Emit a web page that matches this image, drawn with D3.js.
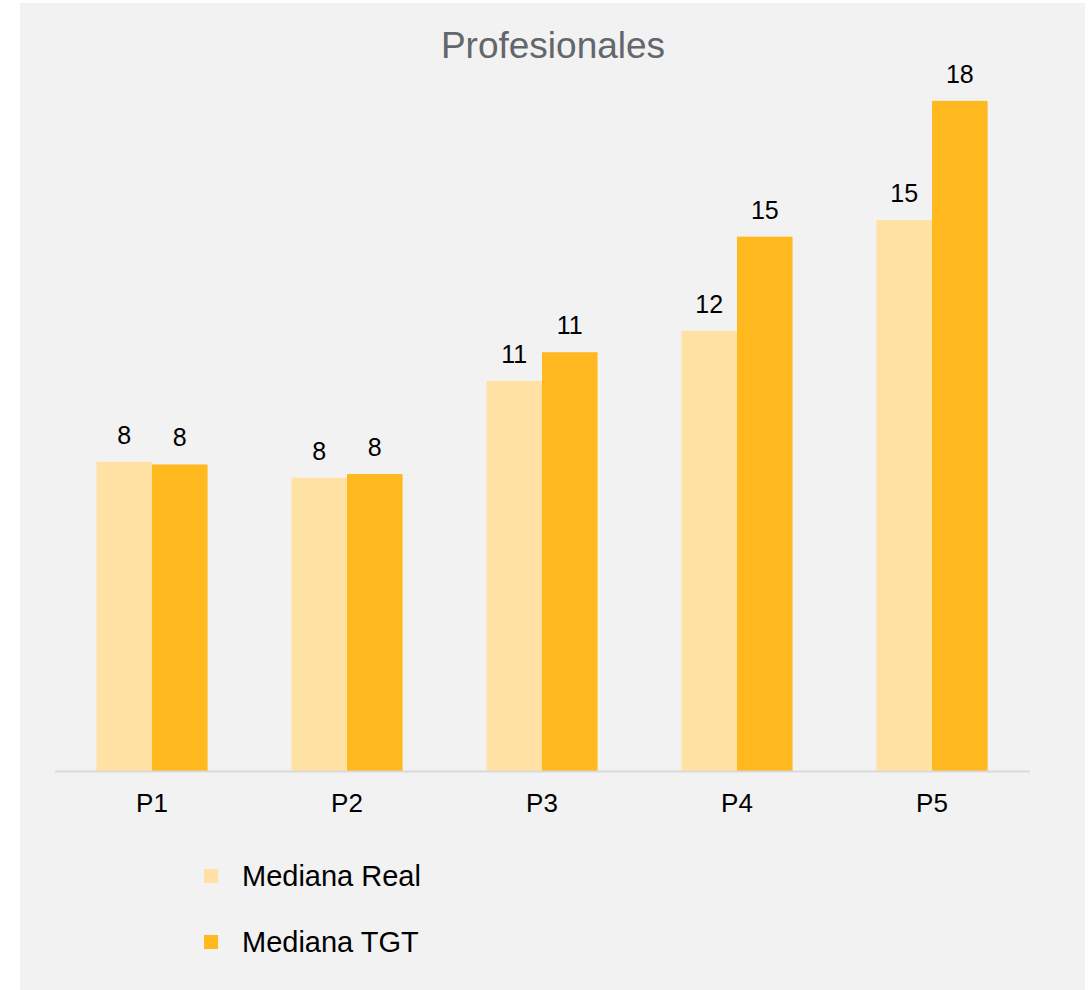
<!DOCTYPE html>
<html>
<head>
<meta charset="utf-8">
<script src="https://cdn.jsdelivr.net/npm/d3@7"></script>
<style>
  body { margin: 0; background: #fff; }
  svg { display: block; font-family: "Liberation Sans", Arial, sans-serif; }
</style>
</head>
<body>
<svg id="chart"></svg>
<script>
// Data
const categories = ['P1', 'P2', 'P3', 'P4', 'P5'];
const seriesNames = ['Mediana Real', 'Mediana TGT'];
const medianaReal = [8.40, 7.97, 10.60, 11.96, 14.97];
const medianaTGT = [8.33, 8.07, 11.38, 14.52, 18.21];
const seriesColors = ['#FFE2A3', '#FFB81E'];

const width = 1089;
const height = 990;

let svg = d3.select('#chart')
    .attr('width', width)
    .attr('height', height);

// Panel background
svg.append('rect')
    .attr('x', 20).attr('y', 3)
    .attr('width', 1065).attr('height', 990)
    .attr('fill', '#f2f2f2');

// Title
svg.append('text')
    .attr('x', 553).attr('y', 58)
    .attr('text-anchor', 'middle')
    .attr('font-size', 37)
    .attr('fill', '#63666a')
    .text('Profesionales');

// Scales
let x0 = d3.scaleBand()
    .domain(categories)
    .range([54.5, 1029.5])
    .paddingInner(0.43)
    .paddingOuter(0.215);

let x1 = d3.scaleBand()
    .domain(seriesNames)
    .range([0, x0.bandwidth()]);

let y = d3.scaleLinear()
    .domain([0, 20])
    .range([771, 35]);

let rows = categories.map((c, i) => ({
    cat: c,
    values: [medianaReal[i], medianaTGT[i]]
}));

// Bars
let groups = svg.append('g')
  .selectAll('g')
  .data(rows)
  .join('g')
    .attr('transform', d => 'translate(' + x0(d.cat) + ',0)');

groups.selectAll('rect')
  .data(d => d.values.map((v, j) => ({ name: seriesNames[j], value: v, j: j })))
  .join('rect')
    .attr('x', d => x1(d.name))
    .attr('y', d => y(d.value))
    .attr('width', x1.bandwidth())
    .attr('height', d => y(0) - y(d.value))
    .attr('fill', d => seriesColors[d.j]);

// Value labels
groups.selectAll('text')
  .data(d => d.values.map((v, j) => ({ name: seriesNames[j], value: v })))
  .join('text')
    .attr('x', d => x1(d.name) + x1.bandwidth() / 2)
    .attr('y', d => y(d.value) - 18)
    .attr('text-anchor', 'middle')
    .attr('font-size', 25)
    .attr('fill', '#000')
    .text(d => d3.format('.0f')(d.value));

// X axis
let xAxis = svg.append('g')
    .attr('transform', 'translate(0,' + y(0) + ')')
    .call(d3.axisBottom(x0).tickSize(0).tickPadding(0));

xAxis.select('.domain')
    .attr('stroke', '#d9d9d9')
    .attr('stroke-width', 2);

xAxis.selectAll('text')
    .attr('dy', null)
    .attr('y', 41)
    .attr('font-size', 26)
    .attr('font-family', '"Liberation Sans", Arial, sans-serif')
    .attr('fill', '#000');

// Legend
let legend = svg.append('g')
  .selectAll('g')
  .data(seriesNames)
  .join('g')
    .attr('transform', (d, i) => 'translate(204,' + (869 + i * 66) + ')');

legend.append('rect')
    .attr('width', 14).attr('height', 14)
    .attr('fill', (d, i) => seriesColors[i]);

legend.append('text')
    .attr('x', 38).attr('y', 17)
    .attr('font-size', 29)
    .attr('fill', '#000')
    .text(d => d);
</script>
</body>
</html>
